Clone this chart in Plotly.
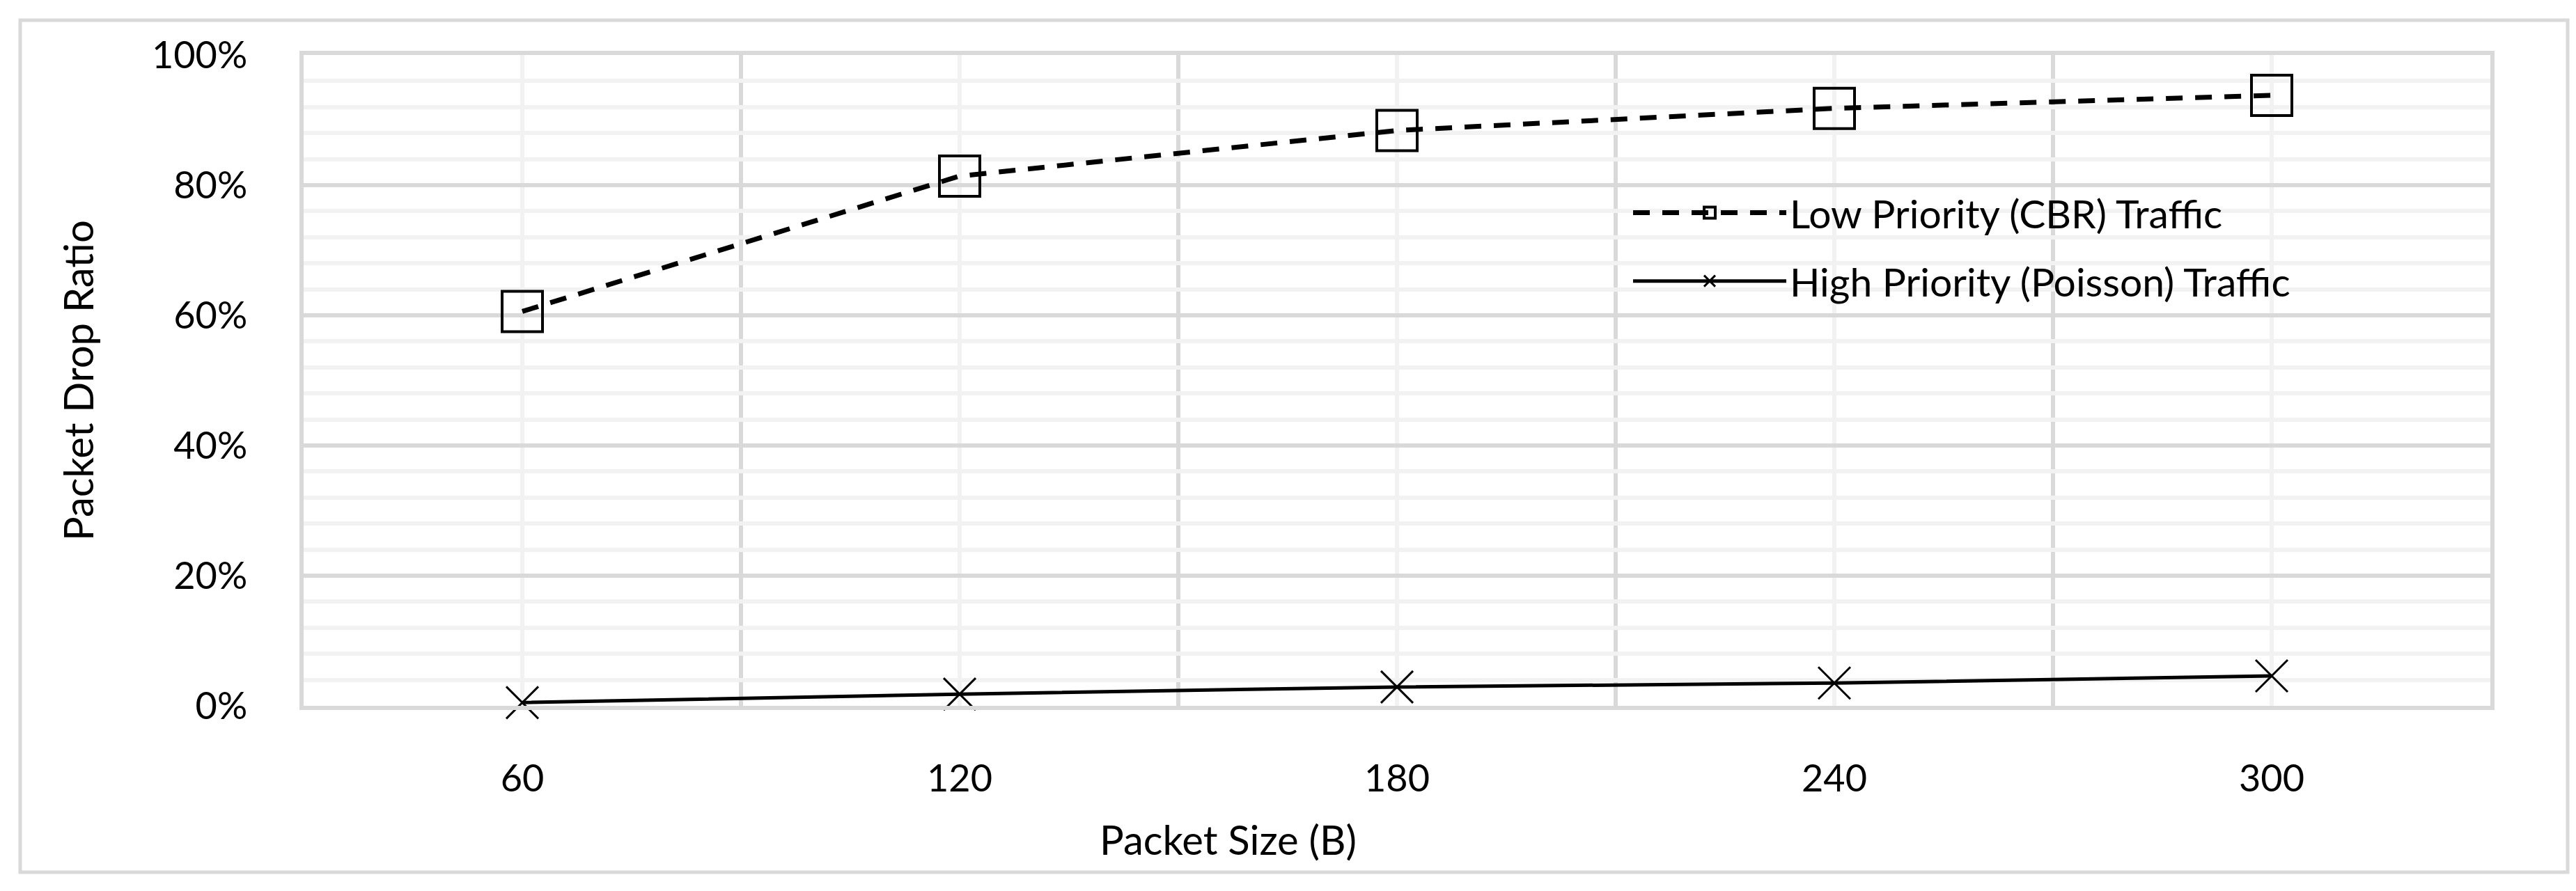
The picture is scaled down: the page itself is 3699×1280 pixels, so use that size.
import plotly.graph_objects as go

# packet sizes (B) and drop ratios
packet_size = [60, 120, 180, 240, 300]
low_priority = [0.606, 0.814, 0.884, 0.918, 0.938]
high_priority = [0.005, 0.018, 0.029, 0.035, 0.046]

low_name = "Low Priority (CBR) Traffic"
high_name = "High Priority (Poisson) Traffic"

W, H = 3699, 1280
L, R, T, B = 436, 3576, 79, 1014   # plot area in px


def px_x(x):
    return (x - L) / (R - L)


def px_y(y):
    return (B - y) / (B - T)


FONT = "Lato"
MAJOR = "#d9d9d9"
MINOR = "#f2f2f2"

fig = go.Figure()

fig.add_trace(go.Scatter(
    x=packet_size, y=low_priority, name=low_name, legendgroup="low",
    mode="lines+markers", cliponaxis=False,
    line=dict(color="black", width=7, dash="24px,18px"),
    marker=dict(symbol="square-open", size=58, color="black",
                line=dict(color="black", width=4)),
))
fig.add_trace(go.Scatter(
    x=packet_size, y=high_priority, name=high_name, legendgroup="high",
    mode="lines+markers", cliponaxis=False,
    line=dict(color="black", width=5),
    marker=dict(symbol="x-thin-open", size=46, color="black",
                line=dict(color="black", width=3)),
))

# outer chart border
fig.add_shape(type="rect", xref="paper", yref="paper",
              x0=px_x(29), x1=px_x(3687), y0=px_y(1253), y1=px_y(29),
              line=dict(color=MAJOR, width=5), fillcolor="rgba(0,0,0,0)",
              layer="below")

# axis titles
fig.add_annotation(text="Packet Size (B)", xref="paper", yref="paper",
                   x=px_x(1763), y=px_y(1205), showarrow=False,
                   xanchor="center", yanchor="middle",
                   font=dict(family=FONT, size=58, color="black"))
fig.add_annotation(text="Packet Drop Ratio", xref="paper", yref="paper",
                   x=px_x(111), y=px_y(547), showarrow=False, textangle=-90,
                   xanchor="center", yanchor="middle",
                   font=dict(family=FONT, size=58, color="black"))

fig.update_layout(
    width=W, height=H,
    margin=dict(l=L, r=W - R, t=T, b=H - B, pad=0),
    paper_bgcolor="white", plot_bgcolor="white",
    font=dict(family=FONT, size=54, color="black"),
    showlegend=True,
    legend=dict(
        x=px_x(2340), y=px_y(262), xanchor="left", yanchor="top",
        bgcolor="rgba(0,0,0,0)", borderwidth=0,
        itemwidth=220, traceorder="grouped", tracegroupgap=21,
        font=dict(family=FONT, size=57, color="black"),
    ),
    xaxis=dict(
        range=[30, 330], tickmode="array", tickvals=packet_size,
        showgrid=True, gridcolor=MINOR, gridwidth=6,
        minor=dict(tick0=30, dtick=60, showgrid=True,
                   gridcolor=MAJOR, gridwidth=6),
        zeroline=False, showline=True, mirror=True,
        linecolor=MAJOR, linewidth=6, ticks="",
        ticklabelstandoff=52,
    ),
    yaxis=dict(
        range=[0, 1], dtick=0.2, tickformat=".0%",
        showgrid=True, gridcolor=MAJOR, gridwidth=6,
        minor=dict(dtick=0.04, showgrid=True, gridcolor=MINOR, gridwidth=6),
        zeroline=False, showline=True, mirror=True,
        linecolor=MAJOR, linewidth=6, ticks="",
        ticklabelstandoff=64,
    ),
)

# drop the default page margin so the figure sits at the window origin
fig.write_html("out.html", config={"displayModeBar": False},
               post_script="document.body.style.margin='0px';")
